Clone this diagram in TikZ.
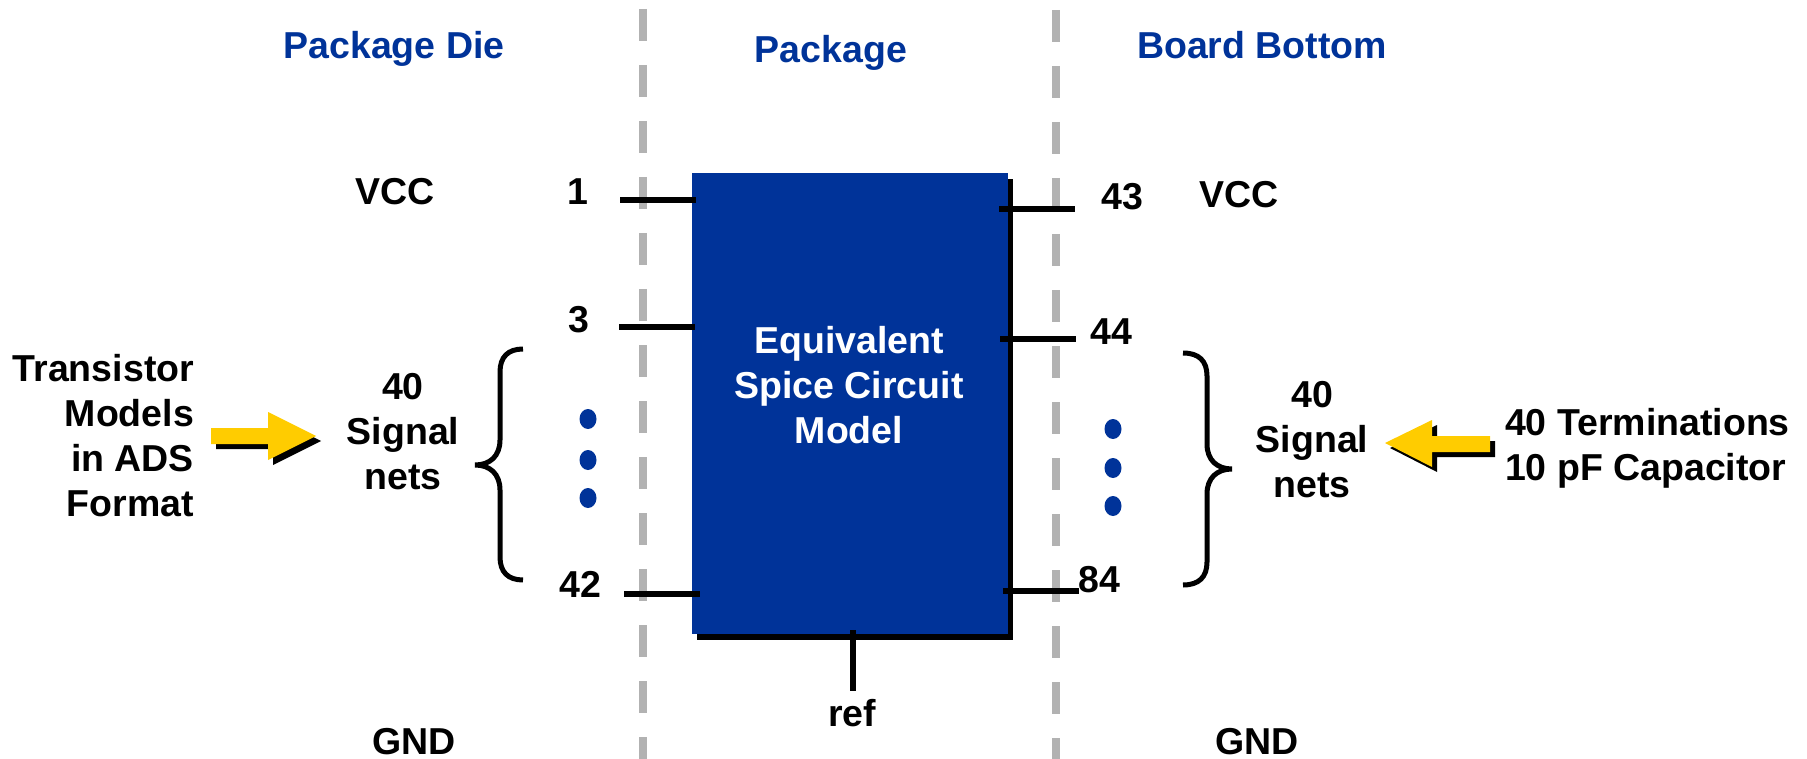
\documentclass[tikz,border=0pt]{standalone}
\usepackage{fontspec}
\setmainfont{Liberation Sans}
\definecolor{pblue}{HTML}{003399}
\definecolor{pyellow}{HTML}{FFCC00}
\definecolor{pgray}{HTML}{B2B2B2}
\usetikzlibrary{shapes.geometric}
\tikzset{
  lbl/.style={inner sep=0pt,outer sep=0pt,anchor=base,align=center,font=\fontsize{37.5}{45}\selectfont\bfseries},
  head/.style={lbl,text=pblue},
  divider/.style={draw=pgray,line width=8pt,dash pattern=on 32pt off 24pt},
  pin/.style={draw=black,line width=6pt},
  brc/.style={draw=black,line width=5pt},
  dot/.style={fill=pblue,draw=none,ellipse,minimum width=17pt,minimum height=20pt,inner sep=0pt},
  arrowbody/.style={draw=none},
}
\begin{document}
\begin{tikzpicture}[x=1pt,y=-1pt]
\useasboundingbox (0,0) rectangle (1807,759);
% dividers
\coordinate (dlt) at (643,9); \coordinate (dlb) at (643,759);
\coordinate (drt) at (1056,10); \coordinate (drb) at (1056,759);
\draw[divider] (dlt) -- (dlb);
\draw[divider] (drt) -- (drb);
% box with shadow
\node[fill=black,draw=none,minimum width=316pt,minimum height=461pt,inner sep=0pt,anchor=north west] (shadow) at (697,179) {};
\node[fill=pblue,draw=none,minimum width=316pt,minimum height=461pt,inner sep=0pt,anchor=north west] (box) at (692,173) {};
\node[lbl,text=white] (eq) at (849,443) {Equivalent\\Spice Circuit\\Model};
% pins
\coordinate (p1a) at (620,200); \coordinate (p1b) at (696,200);
\coordinate (p3a) at (619,327); \coordinate (p3b) at (695,327);
\coordinate (p42a) at (624,594); \coordinate (p42b) at (700,594);
\coordinate (p43a) at (999,209.5); \coordinate (p43b) at (1075,209.5);
\coordinate (p44a) at (1000,339); \coordinate (p44b) at (1076,339);
\coordinate (p84a) at (1003,591); \coordinate (p84b) at (1079,591);
\coordinate (refa) at (853,630); \coordinate (refb) at (853,691);
\draw[pin] (p1a) -- (p1b);
\draw[pin] (p3a) -- (p3b);
\draw[pin] (p42a) -- (p42b);
\draw[pin] (p43a) -- (p43b);
\draw[pin] (p44a) -- (p44b);
\draw[pin] (p84a) -- (p84b);
\draw[pin] (refa) -- (refb);
% headings
\node[head] (hd) at (394,59) {Package Die};
\node[head] (hp) at (831,62.5) {Package};
\node[head] (hb) at (1262,59) {Board Bottom};
% labels
\node[lbl] (vccl) at (395,205) {VCC};
\node[lbl] (vccr) at (1239,208) {VCC};
\node[lbl] (n1) at (578,205) {1};
\node[lbl] (n3) at (579,332) {3};
\node[lbl] (n42) at (580,597) {42};
\node[lbl] (n43) at (1122,210) {43};
\node[lbl] (n44) at (1111,344) {44};
\node[lbl] (n84) at (1099,592) {84};
\node[lbl] (ref) at (852,726) {ref};
\node[lbl] (gndl) at (414,754) {GND};
\node[lbl] (gndr) at (1257,754) {GND};
\node[lbl,align=right,anchor=base east] (tm) at (194,516) {Transistor\\Models\\in ADS\\Format};
\node[lbl] (sl) at (403,489) {40\\Signal\\nets};
\node[lbl] (sr) at (1312,497) {40\\Signal\\nets};
\node[lbl,align=left,anchor=base west] (term) at (1505,480) {40 Terminations\\10 pF Capacitor};
% dots
\node[dot] (dl1) at (588,419) {};
\node[dot] (dl2) at (588,460) {};
\node[dot] (dl3) at (588,498) {};
\node[dot] (dr1) at (1113,429) {};
\node[dot] (dr2) at (1113,468) {};
\node[dot] (dr3) at (1113,506) {};
% braces
\draw[brc] (523,349) .. controls (508,349) and (500,357) .. (500,372) -- (500,440)
  .. controls (500,456) and (490,465) .. (475,465)
  .. controls (490,465) and (500,474) .. (500,490) -- (500,557)
  .. controls (500,572) and (508,580) .. (523,580);
\draw[brc] (1183,353) .. controls (1199,353) and (1207,361) .. (1207,376) -- (1207,444)
  .. controls (1207,460) and (1217,469) .. (1232,469)
  .. controls (1217,469) and (1207,478) .. (1207,494) -- (1207,562)
  .. controls (1207,577) and (1199,585) .. (1183,585);
% arrows
\fill[black] (216,433) -- (273,433) -- (273,417) -- (321,441) -- (273,465) -- (273,449) -- (216,449) -- cycle;
\fill[pyellow] (211,428) -- (268,428) -- (268,412) -- (316,436) -- (268,460) -- (268,444) -- (211,444) -- cycle;
\fill[black] (1495,441) -- (1437,441) -- (1437,425) -- (1390,448) -- (1437,472) -- (1437,457) -- (1495,457) -- cycle;
\fill[pyellow] (1490,436) -- (1432,436) -- (1432,420) -- (1385,443) -- (1432,467) -- (1432,452) -- (1490,452) -- cycle;
\end{tikzpicture}
\end{document}
